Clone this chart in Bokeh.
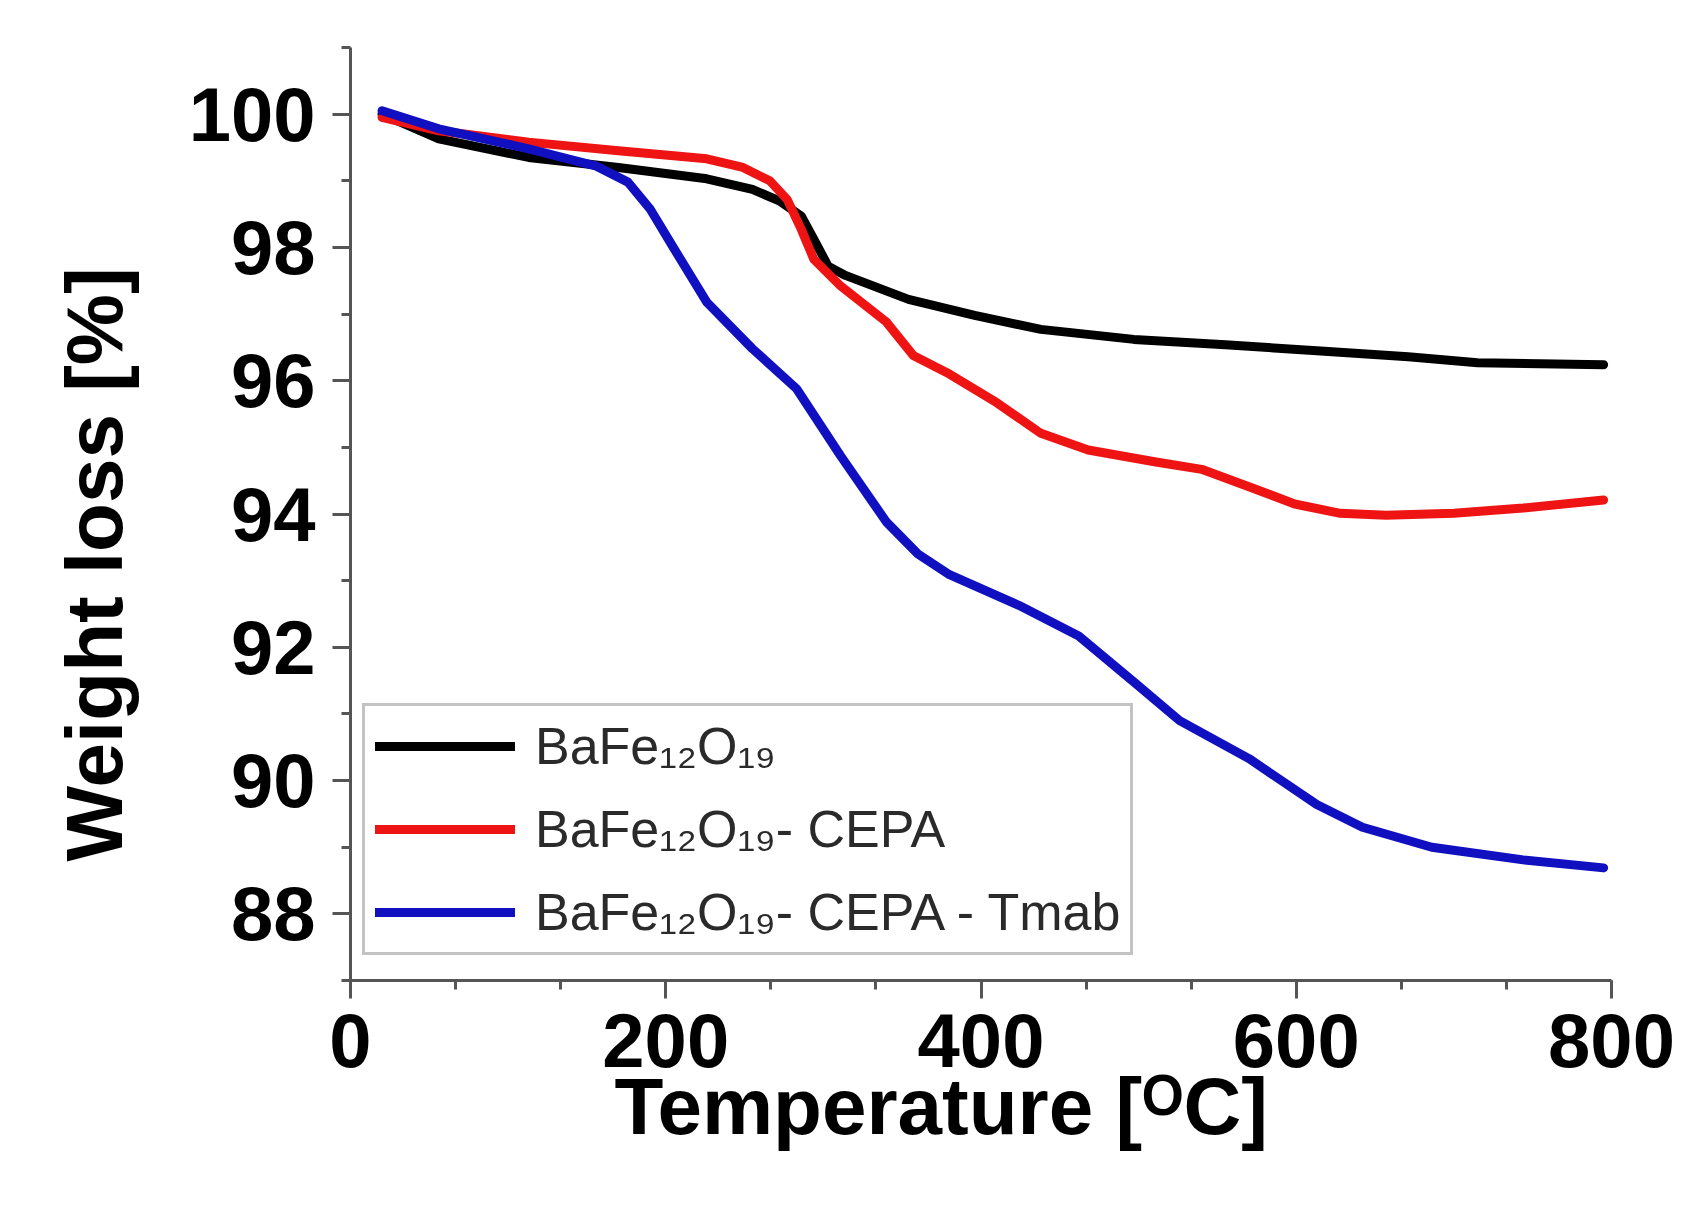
from bokeh.plotting import figure
from bokeh.models import Range1d, FixedTicker, Legend, LegendItem, Title
from bokeh.embed import file_html
from bokeh.resources import INLINE

# TGA curves: temperature [C] vs remaining weight [%]
black_t = [20, 56, 113, 170, 226, 255, 272, 286, 294, 303, 314, 354, 396, 438, 497, 555, 613, 671, 715, 795]
black_w = [100.0, 99.63, 99.35, 99.2, 99.03, 98.87, 98.7, 98.47, 98.12, 97.72, 97.58, 97.22, 96.98, 96.77,
           96.62, 96.54, 96.45, 96.36, 96.27, 96.24]

red_t = [20, 56, 113, 170, 226, 249, 266, 277, 286, 294, 311, 340, 357, 380, 410, 438, 468, 511, 540, 570,
         599, 628, 657, 700, 744, 795]
red_w = [99.95, 99.75, 99.58, 99.45, 99.33, 99.2, 99.0, 98.72, 98.27, 97.82, 97.42, 96.88, 96.38, 96.1, 95.67,
         95.21, 94.96, 94.78, 94.67, 94.41, 94.15, 94.01, 93.98, 94.01, 94.09, 94.21]

blue_t = [20, 56, 113, 156, 176, 190, 204, 226, 255, 283, 311, 340, 360, 380, 424, 462, 497, 526, 570, 613,
          642, 686, 744, 795]
blue_w = [100.05, 99.78, 99.48, 99.22, 98.98, 98.58, 98.03, 97.18, 96.48, 95.88, 94.87, 93.88, 93.4, 93.09,
          92.63, 92.17, 91.48, 90.9, 90.33, 89.64, 89.3, 89.0, 88.81, 88.69]

names = ["BaFe\u2081\u2082O\u2081\u2089", "BaFe\u2081\u2082O\u2081\u2089- CEPA", "BaFe\u2081\u2082O\u2081\u2089- CEPA - Tmab"]
colors = ["#000000", "#ee1414", "#1010c0"]

x_major = [0, 200, 400, 600, 800]
x_minor = [i * 200 / 3 for i in range(13)]
y_major = [88, 90, 92, 94, 96, 98, 100]
y_minor = list(range(87, 102))

x_title = "Temperature [\u1d3cC]"
y_title = "Weight loss [%]"

FONT = "Liberation Sans"

p = figure(width=1690, height=1198, x_range=Range1d(0, 800), y_range=Range1d(87, 101),
           output_backend="svg", toolbar_location=None,
           min_border_left=349, min_border_right=79, min_border_top=47, min_border_bottom=218)
p.outline_line_color = None
p.grid.grid_line_color = None
p.background_fill_color = "white"

p.xaxis.ticker = FixedTicker(ticks=x_major, minor_ticks=x_minor)
p.yaxis.ticker = FixedTicker(ticks=y_major, minor_ticks=y_minor)

for ax in (p.xaxis, p.yaxis):
    ax.axis_line_color = "#555555"
    ax.axis_line_width = 3
    ax.major_tick_line_color = "#555555"
    ax.major_tick_line_width = 3
    ax.minor_tick_line_color = "#555555"
    ax.minor_tick_line_width = 3
    ax.major_tick_in = 0
    ax.major_tick_out = 18
    ax.minor_tick_in = 0
    ax.minor_tick_out = 9
    ax.major_label_text_font = FONT
    ax.major_label_text_font_style = "bold"
    ax.major_label_text_font_size = "76px"
    ax.major_label_text_color = "black"
    ax.axis_label = None
p.xaxis.major_label_standoff = 15
p.yaxis.major_label_standoff = 17

r1 = p.line(black_t, black_w, line_color=colors[0], line_width=9, line_join="round", line_cap="round")
r2 = p.line(red_t, red_w, line_color=colors[1], line_width=9, line_join="round", line_cap="round")
r3 = p.line(blue_t, blue_w, line_color=colors[2], line_width=9, line_join="round", line_cap="round")

legend = Legend(items=[LegendItem(label=names[0], renderers=[r1]),
                       LegendItem(label=names[1], renderers=[r2]),
                       LegendItem(label=names[2], renderers=[r3])],
                location=(12, 25))
legend.border_line_color = "#888888"
legend.border_line_width = 3
legend.background_fill_alpha = 1
legend.label_text_font = FONT
legend.label_text_font_size = "52px"
legend.label_text_color = "#2a2a2a"
legend.glyph_width = 140
legend.glyph_height = 56
legend.label_height = 56
legend.spacing = 23
legend.padding = 10
legend.margin = 0
legend.label_standoff = 20
p.add_layout(legend)

# axis titles as side titles, so they can sit off-centre like the original
xt = Title(text=x_title, align="left", offset=264, standoff=-20,
           text_font=FONT, text_font_style="bold", text_font_size="80px", text_color="black")
p.add_layout(xt, "below")
yt = Title(text=y_title, align="left", offset=119, standoff=94,
           text_font=FONT, text_font_style="bold", text_font_size="80px", text_color="black")
p.add_layout(yt, "left")

open("out.html", "w").write(file_html(p, INLINE))
